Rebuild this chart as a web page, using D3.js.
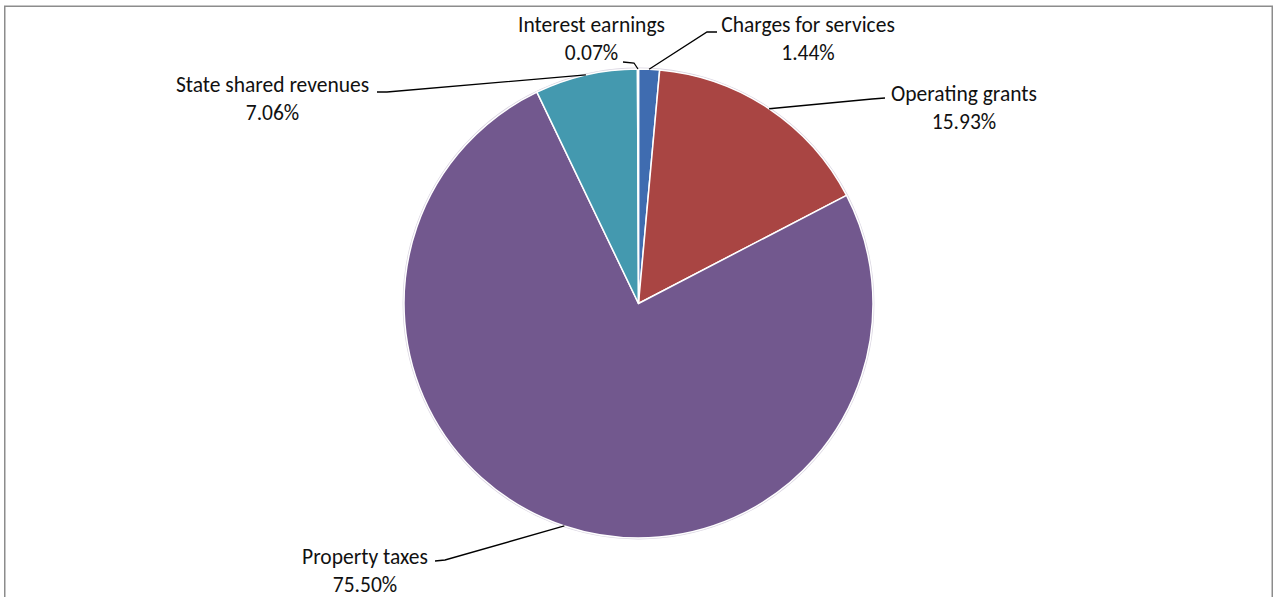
<!DOCTYPE html>
<html>
<head>
<meta charset="utf-8">
<script src="https://cdn.jsdelivr.net/npm/d3@7"></script>
<style>
  html, body { margin: 0; padding: 0; background: #fff; }
  svg { display: block; }
  text { font-family: Carlito, Lato, "Open Sans", sans-serif; fill: #111; }
</style>
</head>
<body>
<svg id="chart" width="1273" height="597"></svg>
<script>
// Revenue sources, clockwise from 12 o'clock
const categories = ["Charges for services", "Operating grants", "Property taxes", "State shared revenues", "Interest earnings"];
const shares = [1.44, 15.93, 75.50, 7.06, 0.07];
const sliceColors = ["#3F6CB0", "#A94543", "#72588E", "#4499AF", "#E58A45"];

// Label placement: text centre / first baseline and leader elbow
const labelLayout = {
  "Charges for services":  { x: 808,   y: 32,  elbow: [[717, 32], [707, 32]] },
  "Operating grants":      { x: 964,   y: 101, elbow: [[885, 98], [872, 99]] },
  "Property taxes":        { x: 365,   y: 564, elbow: [[435, 561], [445, 560]] },
  "State shared revenues": { x: 272.5, y: 92,  elbow: [[377, 92], [387, 92]] },
  "Interest earnings":     { x: 591.5, y: 32,  elbow: [[623, 62], [634, 63]] }
};

const cx = 638.5, cy = 303.5, R = 234.5;
const fontSize = 21.5, lineGap = 28;

const svg = d3.select("#chart");

// chart frame
svg.append("rect")
  .attr("x", 4.75).attr("y", 6.25)
  .attr("width", 1267.5).attr("height", 620)
  .attr("fill", "none")
  .attr("stroke", "#8c8c8c")
  .attr("stroke-width", 1.5);

const data = categories.map((c, i) => ({ name: c, value: shares[i], color: sliceColors[i] }));

const pie = d3.pie().sort(null).value(d => d.value).startAngle(0).endAngle(2 * Math.PI);
const arcs = pie(data);
const arc = d3.arc().innerRadius(0).outerRadius(R);

const g = svg.append("g").attr("transform", `translate(${cx},${cy})`);

// soft rim around the pie
g.append("circle")
  .attr("r", R + 0.6)
  .attr("fill", "none")
  .attr("stroke", "#d9d4e0")
  .attr("stroke-width", 1.6);

g.selectAll("path.slice")
  .data(arcs)
  .join("path")
  .attr("class", "slice")
  .attr("d", arc)
  .attr("fill", d => d.data.color)
  .attr("stroke", "#ffffff")
  .attr("stroke-width", 1.5)
  .attr("stroke-linejoin", "round");

// leader lines from slice mid-angle on the rim to the label
const rimPoint = d => {
  const a = (d.startAngle + d.endAngle) / 2;
  return [cx + R * Math.sin(a), cy - R * Math.cos(a)];
};

svg.selectAll("path.leader")
  .data(arcs)
  .join("path")
  .attr("class", "leader")
  .attr("d", d => {
    const L = labelLayout[d.data.name];
    return d3.line()([L.elbow[0], L.elbow[1], rimPoint(d)]);
  })
  .attr("fill", "none")
  .attr("stroke", "#000")
  .attr("stroke-width", 1.3);

const labels = svg.selectAll("text.label")
  .data(arcs)
  .join("text")
  .attr("class", "label")
  .attr("text-anchor", "middle")
  .attr("font-size", fontSize);

labels.append("tspan")
  .attr("x", d => labelLayout[d.data.name].x)
  .attr("y", d => labelLayout[d.data.name].y)
  .text(d => d.data.name);

labels.append("tspan")
  .attr("x", d => labelLayout[d.data.name].x)
  .attr("y", d => labelLayout[d.data.name].y + lineGap)
  .text(d => d.data.value.toFixed(2) + "%");
</script>
</body>
</html>
